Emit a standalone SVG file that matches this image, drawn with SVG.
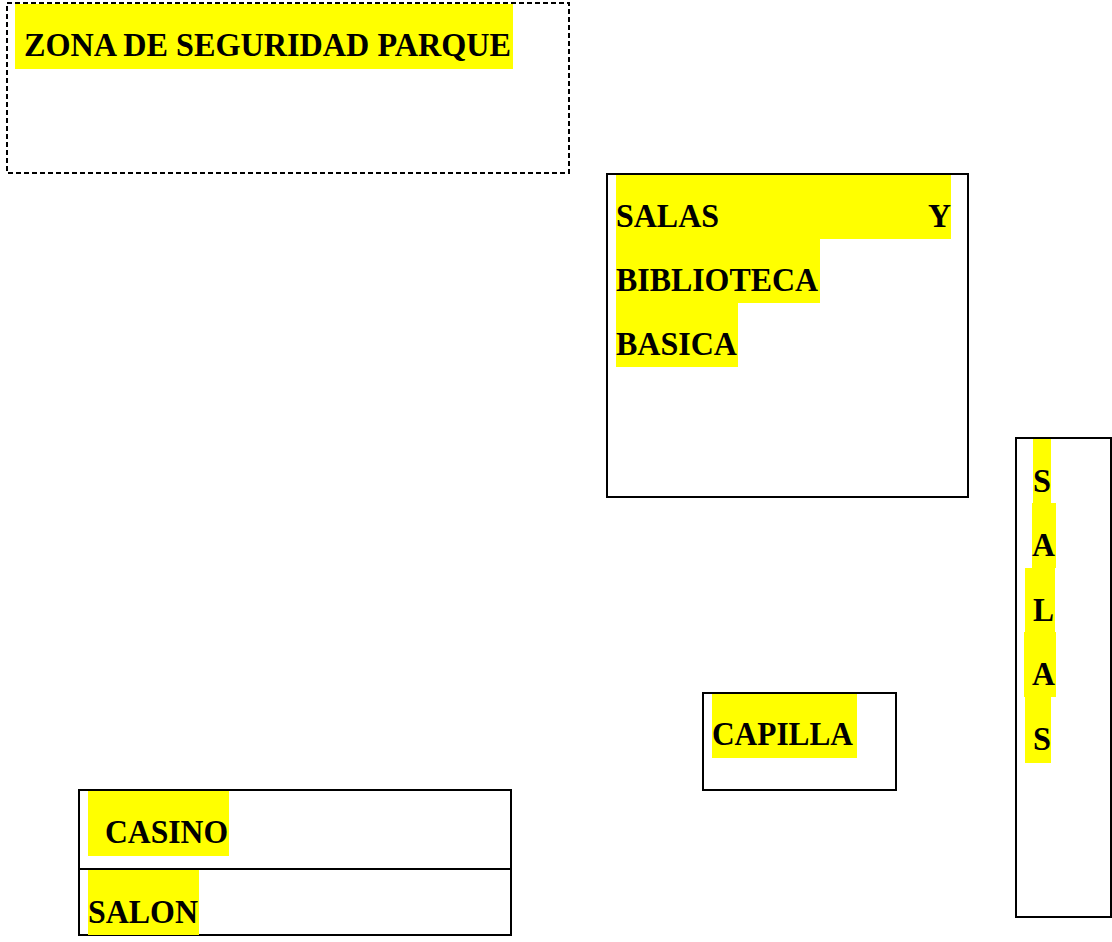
<svg xmlns="http://www.w3.org/2000/svg" width="1112" height="942" viewBox="0 0 1112 942">
<style>
.box{fill:none;stroke:#000;stroke-width:2}
.dash{fill:none;stroke:#000;stroke-width:2;stroke-dasharray:5,3}
.hl{fill:#ffff00}
.t{font-family:"Liberation Serif","Times New Roman",serif;font-weight:bold;font-size:33.5px;fill:#000}
</style>
<rect x="0" y="0" width="1112" height="942" fill="#fff"/>
<g id="zona">
<rect class="dash" x="7" y="3" width="562" height="170"/>
<rect class="hl" x="15" y="4" width="498" height="65"/>
<text class="t" x="24" y="56" textLength="487" lengthAdjust="spacingAndGlyphs">ZONA DE SEGURIDAD PARQUE</text>
</g>
<g id="salas-biblioteca">
<rect class="box" x="607" y="174" width="361" height="323"/>
<rect class="hl" x="616" y="175" width="335" height="64"/>
<rect class="hl" x="616" y="239" width="204" height="64"/>
<rect class="hl" x="616" y="303" width="122" height="64"/>
<text class="t" x="616" y="227" textLength="103" lengthAdjust="spacingAndGlyphs">SALAS</text>
<text class="t" x="928" y="227" textLength="23" lengthAdjust="spacingAndGlyphs">Y</text>
<text class="t" x="616" y="291" textLength="202" lengthAdjust="spacingAndGlyphs">BIBLIOTECA</text>
<text class="t" x="616" y="355" textLength="121" lengthAdjust="spacingAndGlyphs">BASICA</text>
</g>
<g id="salas">
<rect class="box" x="1016" y="438" width="95" height="479"/>
<rect class="hl" x="1033" y="439" width="18" height="64"/>
<rect class="hl" x="1032" y="503" width="24" height="65"/>
<rect class="hl" x="1025" y="568" width="30" height="64"/>
<rect class="hl" x="1024" y="632" width="32" height="65"/>
<rect class="hl" x="1025" y="697" width="26" height="66"/>
<text class="t" x="1033" y="492" textLength="18" lengthAdjust="spacingAndGlyphs">S</text>
<text class="t" x="1032" y="556" textLength="23" lengthAdjust="spacingAndGlyphs">A</text>
<text class="t" x="1033" y="621" textLength="21" lengthAdjust="spacingAndGlyphs">L</text>
<text class="t" x="1032" y="685" textLength="23" lengthAdjust="spacingAndGlyphs">A</text>
<text class="t" x="1033" y="750" textLength="18" lengthAdjust="spacingAndGlyphs">S</text>
</g>
<g id="capilla">
<rect class="box" x="703" y="693" width="193" height="97"/>
<rect class="hl" x="712" y="694" width="145" height="64"/>
<text class="t" x="712" y="745" textLength="141" lengthAdjust="spacingAndGlyphs">CAPILLA</text>
</g>
<g id="casino">
<rect class="box" x="79" y="790" width="432" height="79"/>
<rect class="hl" x="88" y="791" width="141" height="65"/>
<text class="t" x="105" y="843" textLength="123" lengthAdjust="spacingAndGlyphs">CASINO</text>
</g>
<g id="salon">
<rect class="box" x="79" y="869" width="432" height="66"/>
<rect class="hl" x="88" y="870" width="111" height="65"/>
<text class="t" x="88" y="923" textLength="110" lengthAdjust="spacingAndGlyphs">SALON</text>
</g>
<g id="connectors"></g>
</svg>
